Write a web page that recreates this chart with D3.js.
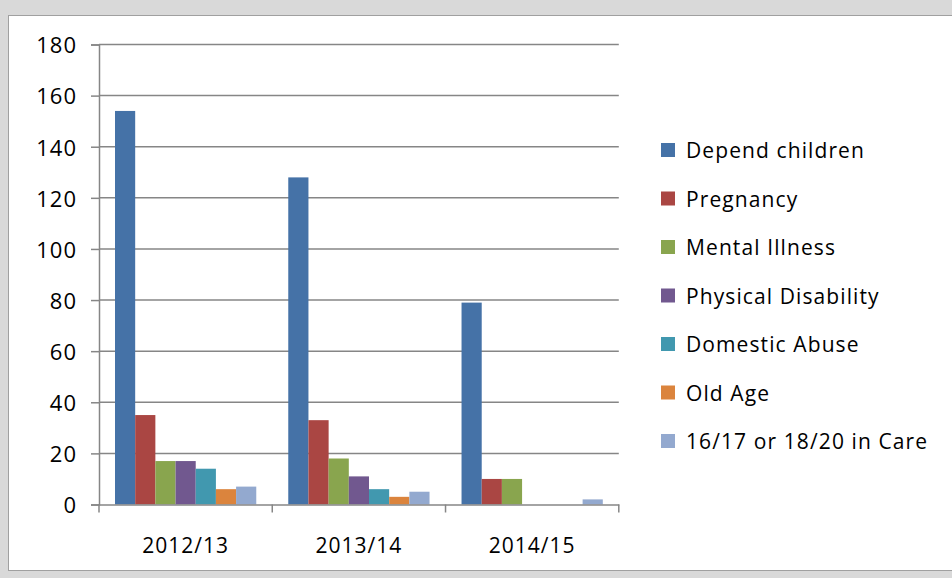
<!DOCTYPE html>
<html>
<head>
<meta charset="utf-8">
<script src="https://cdn.jsdelivr.net/npm/d3@7/dist/d3.min.js"></script>
<style>
  html, body { margin: 0; padding: 0; background: #d9d9d9; }
  svg { display: block; }
  text { font-family: "Open Sans", sans-serif; fill: #000; }
</style>
</head>
<body>
<svg id="chart" width="952" height="578"></svg>
<script>
const categories = ["2012/13", "2013/14", "2014/15"];
const seriesNames = ["Depend children", "Pregnancy", "Mental Illness", "Physical Disability", "Domestic Abuse", "Old Age", "16/17 or 18/20 in Care"];
const seriesColors = ["#4572a7", "#aa4643", "#89a54e", "#71588f", "#4198af", "#db843d", "#93a9cf"];
const dependChildren = [154, 128, 79];
const pregnancy = [35, 33, 10];
const mentalIllness = [17, 18, 10];
const physicalDisability = [17, 11, 0];
const domesticAbuse = [14, 6, 0];
const oldAge = [6, 3, 0];
const inCare = [7, 5, 2];
const yTicks = [0, 20, 40, 60, 80, 100, 120, 140, 160, 180];

const seriesValues = [dependChildren, pregnancy, mentalIllness, physicalDisability, domesticAbuse, oldAge, inCare];

const svg = d3.select("#chart");

// panel
svg.append("rect").attr("x", 0).attr("y", 0).attr("width", 952).attr("height", 578).attr("fill", "#d9d9d9");
svg.append("rect").attr("x", 8.5).attr("y", 15.5).attr("width", 960).attr("height", 555)
  .attr("fill", "#ffffff").attr("stroke", "#a0a0a0").attr("stroke-width", 1);

const plotLeft = 99, plotRight = 618.8, plotTop = 44.5, plotBottom = 504.5;

const y = d3.scaleLinear().domain([0, 180]).range([plotBottom, plotTop]);
const x0 = d3.scaleBand().domain(categories).range([plotLeft, plotRight]).padding(0);
const gap = 16;
const x1 = d3.scaleBand().domain(seriesNames).range([gap, x0.bandwidth() - gap]).padding(0);

// gridlines
svg.append("g").selectAll("line").data(yTicks.filter(d => d > 0)).join("line")
  .attr("x1", plotLeft).attr("x2", plotRight)
  .attr("y1", d => y(d)).attr("y2", d => y(d))
  .attr("stroke", "#868686").attr("stroke-width", 1.5);

// bars
const groups = svg.append("g").selectAll("g").data(categories).join("g")
  .attr("transform", d => `translate(${x0(d)},0)`);
groups.selectAll("rect").data((c, ci) => seriesNames.map((s, si) => ({ s, si, v: seriesValues[si][ci] })))
  .join("rect")
  .attr("x", d => x1(d.s))
  .attr("width", x1.bandwidth())
  .attr("y", d => y(d.v))
  .attr("height", d => y(0) - y(d.v))
  .attr("fill", d => seriesColors[d.si]);

// y axis
const yAxis = d3.axisLeft(y).tickValues(yTicks).tickSize(8).tickPadding(14);
const gy = svg.append("g").attr("transform", `translate(${plotLeft},0)`).call(yAxis);
gy.selectAll("path.domain").attr("stroke", "#868686").attr("stroke-width", 1.5);
gy.selectAll(".tick line").attr("stroke", "#868686").attr("stroke-width", 1.5);
gy.selectAll("text").attr("font-size", 22).attr("letter-spacing", 1).attr("dy", "0.38em")
  .attr("font-family", "Open Sans, sans-serif").attr("fill", "#000");

// x axis
const xAxis = d3.axisBottom(x0).tickSize(0).tickPadding(0);
const gx = svg.append("g").attr("transform", `translate(0,${plotBottom})`).call(xAxis);
gx.selectAll("path.domain").attr("stroke", "#868686").attr("stroke-width", 1.5);
gx.selectAll("text").attr("font-size", 21).attr("letter-spacing", 1).attr("dy", 0).attr("y", 48)
  .attr("font-family", "Open Sans, sans-serif").attr("fill", "#000");
const boundaries = categories.map(c => x0(c)).concat([x0(categories[categories.length - 1]) + x0.bandwidth()]);
gx.append("g").selectAll("line").data(boundaries).join("line")
  .attr("x1", d => d).attr("x2", d => d).attr("y1", 0).attr("y2", 8)
  .attr("stroke", "#868686").attr("stroke-width", 1.5);

// legend
const legend = svg.append("g");
const legendY = d3.scalePoint().domain(seriesNames).range([150, 441]);
const items = legend.selectAll("g").data(seriesNames).join("g")
  .attr("transform", d => `translate(661,${legendY(d)})`);
items.append("rect").attr("x", 0).attr("y", -7).attr("width", 14).attr("height", 14)
  .attr("fill", (d, i) => seriesColors[i]);
items.append("text").attr("x", 25).attr("y", 1).attr("dy", "0.35em")
  .attr("font-size", 21).attr("letter-spacing", 1.1).text(d => d);
</script>
</body>
</html>
